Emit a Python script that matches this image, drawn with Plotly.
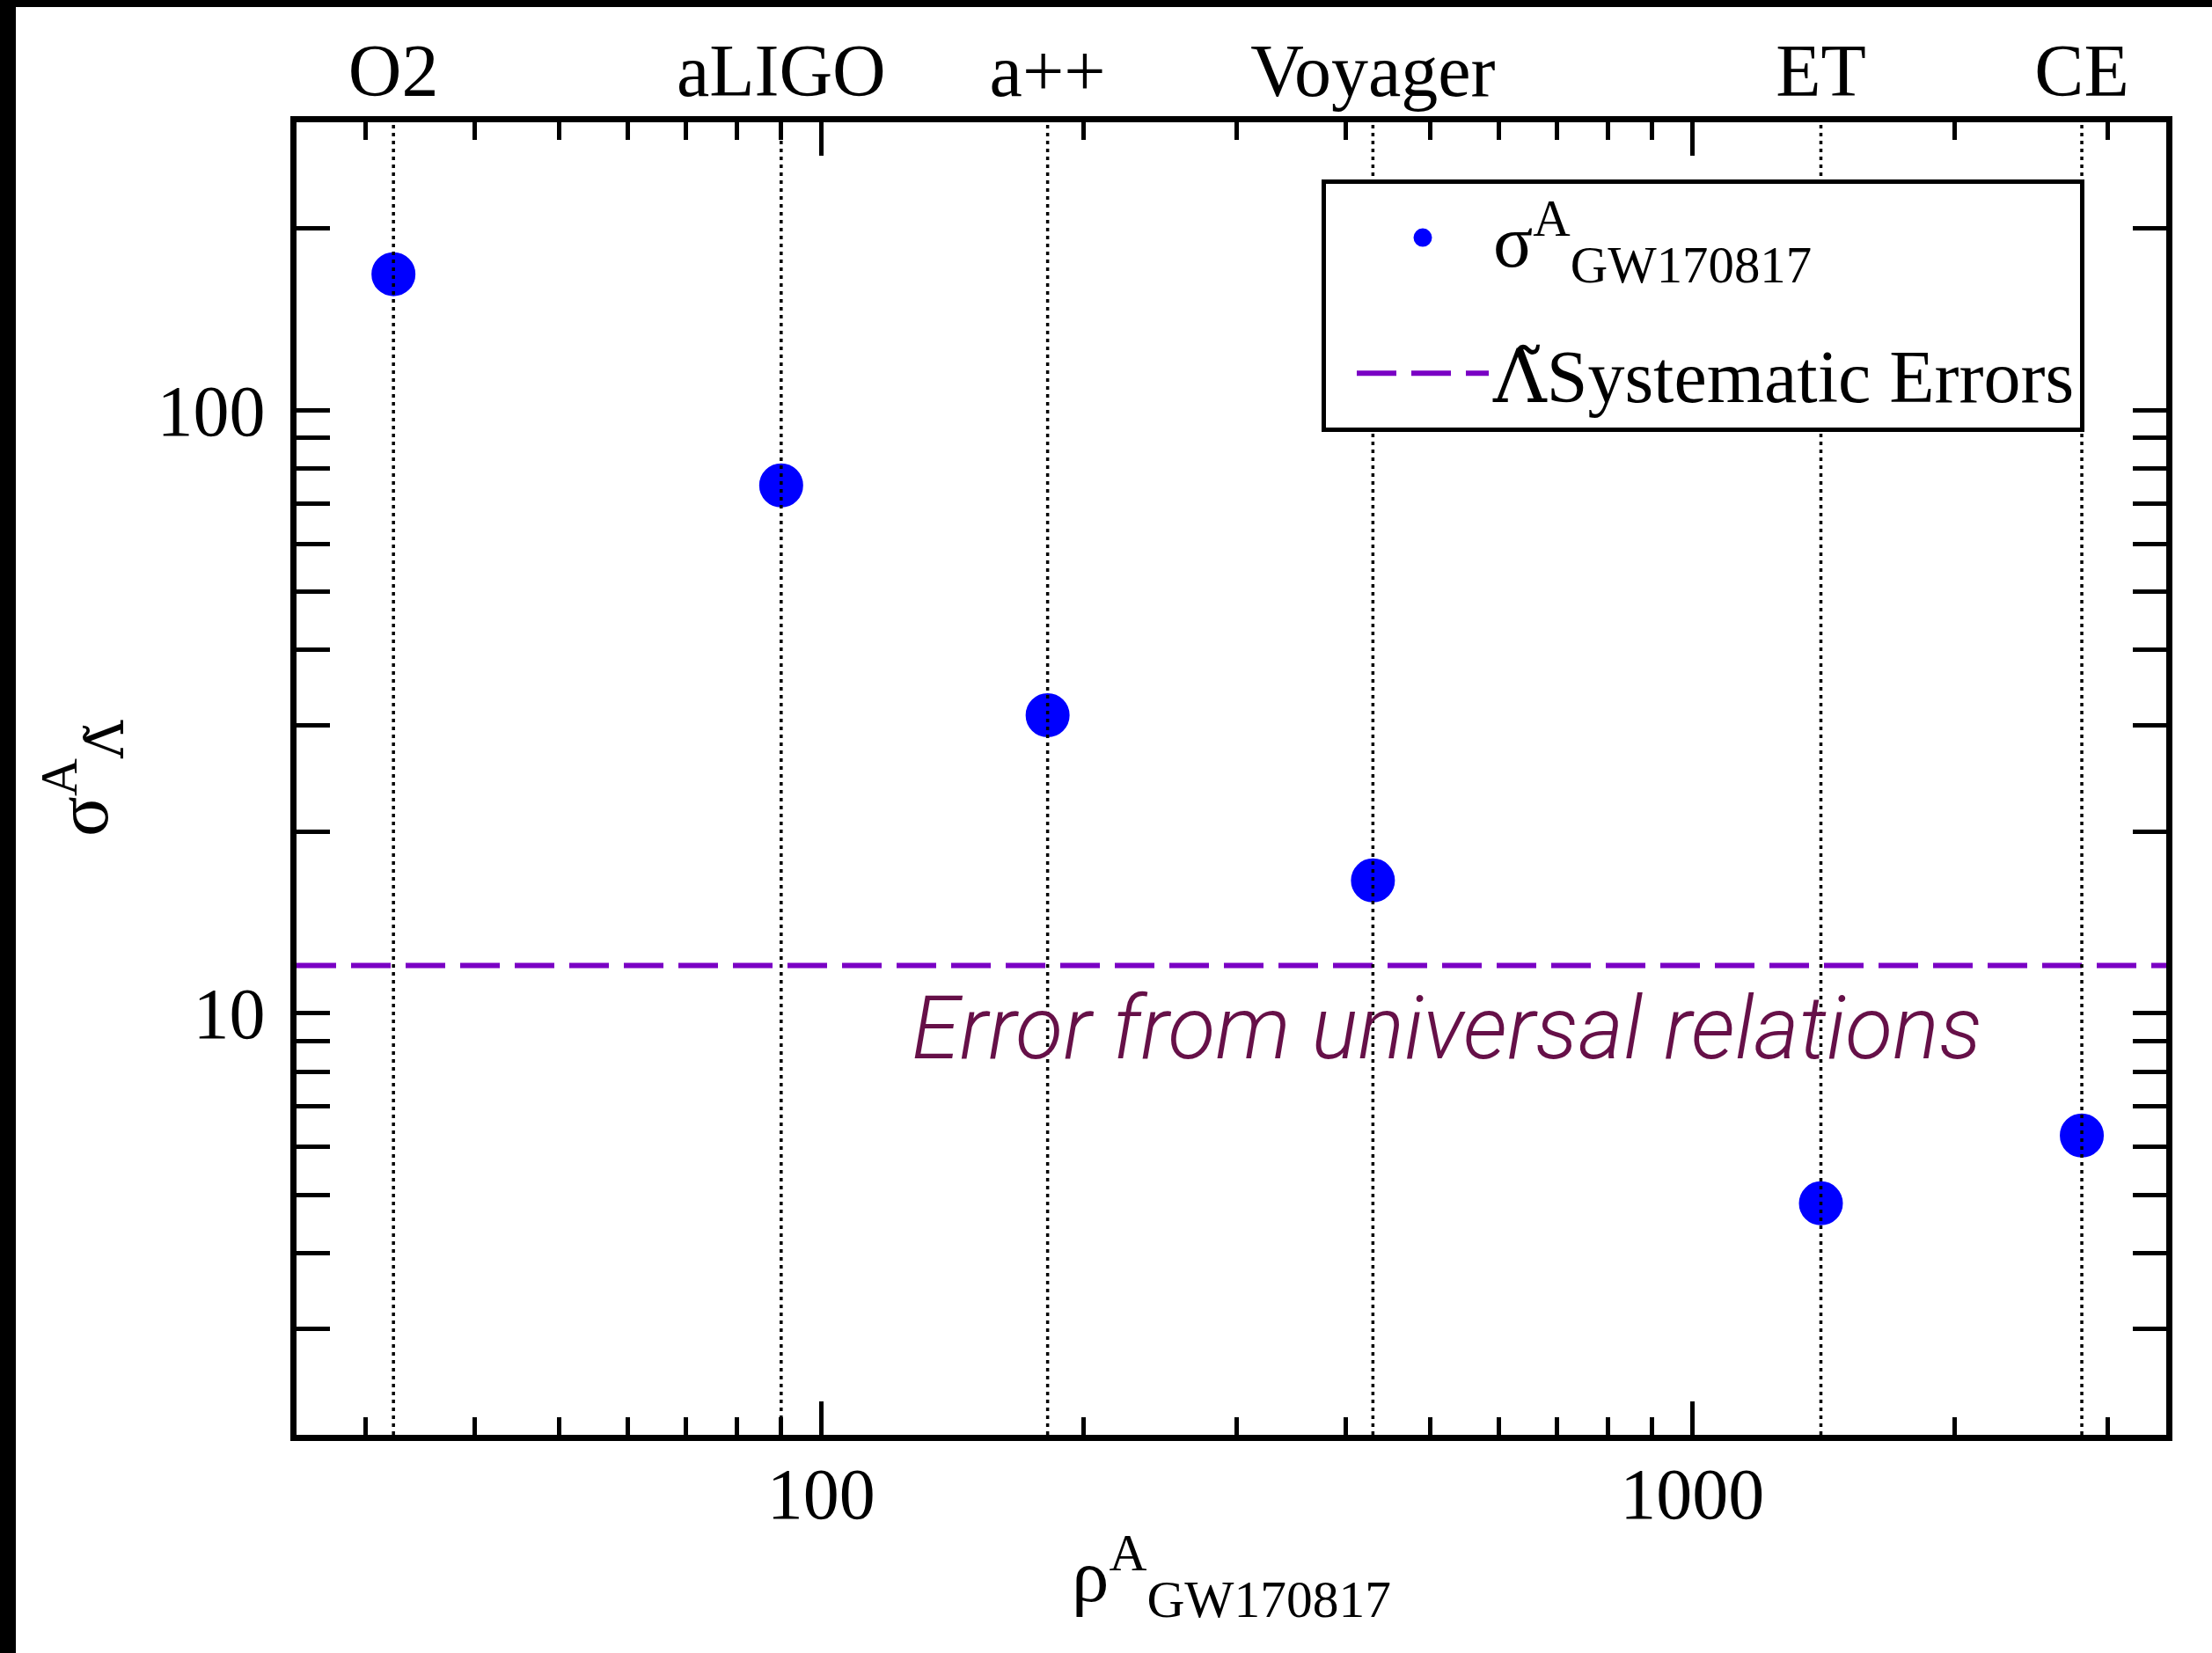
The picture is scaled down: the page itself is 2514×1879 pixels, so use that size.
import numpy as np
import plotly.graph_objects as go

# ---- data ----
detectors = ["O2", "aLIGO", "a++", "Voyager", "ET", "CE"]
rho_snr = [32.3, 90, 182, 430, 1405, 2800]
sigma_lambda = [168, 75, 31.2, 16.6, 4.84, 6.27]
systematic_error = 12.0
x_range = [25, 3500]
y_range = [2, 300]
lam_tilde = '<span style="font-family:DejaVu Serif">Λ\u0303</span>'
series_name = "σ<sup>A</sup><sub>GW170817</sub>"
syst_name = lam_tilde + "Systematic Errors"
x_title = "ρ<sup>A</sup><sub>GW170817</sub>"
y_title = "σ<sup>A</sup><sub>" + lam_tilde + "</sub>"
note_text = "Error from universal relations"

# ---- layout geometry ----
W, H = 2514, 1879
L, R, T, B = 337, 52, 139, 248
PW, PH = W - L - R, H - T - B
serif = "Liberation Serif"

fig = go.Figure()
fig.add_trace(go.Scatter(
    x=rho_snr, y=sigma_lambda, mode="markers", name=series_name, legendgroup="a",
    marker=dict(color="#0000ff", size=45, line=dict(width=5, color="#0000ff"))))
fig.add_trace(go.Scatter(
    x=x_range, y=[systematic_error, systematic_error], mode="lines", name=syst_name,
    legendgroup="b",
    line=dict(color="#7a00c4", width=6, dash="45px,17px")))

vx, vy = [], []
for r in rho_snr:
    vx += [r, r, None]
    vy += [y_range[0], y_range[1], None]
fig.add_trace(go.Scatter(
    x=vx, y=vy, xaxis="x2", yaxis="y", mode="lines", showlegend=False, hoverinfo="skip",
    line=dict(color="black", width=3.5, dash="4px,5px")))

lx = [np.log10(v) for v in x_range]
ly = [np.log10(v) for v in y_range]

axis_common = dict(
    type="log", dtick=1, ticks="inside", ticklen=38, tickwidth=5, tickcolor="black",
    showline=True, linewidth=7, linecolor="black", mirror="allticks", showgrid=False,
    zeroline=False,
    minor=dict(dtick="D1", ticks="inside", ticklen=20, tickwidth=5, tickcolor="black", showgrid=False),
    tickfont=dict(family=serif, size=82, color="black"),
)

fig.update_layout(
    width=W, height=H,
    margin=dict(l=L, r=R, t=T, b=B, pad=0),
    paper_bgcolor="white", plot_bgcolor="white",
    font=dict(family=serif, size=82, color="black"),
    showlegend=True,
    legend=dict(
        x=(1502 - L) / PW, y=(H - B - 204) / PH, xanchor="left", yanchor="top",
        bgcolor="white", bordercolor="black", borderwidth=5,
        font=dict(family=serif, size=84, color="black"), itemwidth=150,
        indentation=30, traceorder="grouped", tracegroupgap=42),
    xaxis=dict(axis_common, range=lx, ticklabelstandoff=-10,
               title=dict(text=x_title, font=dict(family=serif, size=85), standoff=20)),
    xaxis2=dict(type="log", overlaying="x", side="top", range=lx,
                tickvals=rho_snr, ticktext=detectors, ticks="", showline=False,
                showgrid=False, zeroline=False, ticklabelstandoff=12,
                tickfont=dict(family=serif, size=84, color="black")),
    yaxis=dict(axis_common, range=ly, ticklabelstandoff=12,
               title=dict(text=y_title, font=dict(family=serif, size=85), standoff=30)),
)

# annotation
fig.add_annotation(
    text=note_text, xref="paper", yref="paper",
    x=(1034 - L) / PW, y=(H - B - 1169) / PH, xanchor="left", yanchor="middle",
    showarrow=False,
    font=dict(family="Roboto", size=99, color="#661048", style="italic", weight=300))

# black frame strips at left and top edges of the picture
fig.add_shape(type="rect", xref="paper", yref="paper",
              x0=-L / PW, x1=(18 - L) / PW, y0=-B / PH, y1=1 + T / PH,
              line=dict(width=0), fillcolor="black", layer="above")
fig.add_shape(type="rect", xref="paper", yref="paper",
              x0=-L / PW, x1=1 + R / PW, y0=1 + (T - 8) / PH, y1=1 + T / PH,
              line=dict(width=0), fillcolor="black", layer="above")

fig.write_html("out.html")
